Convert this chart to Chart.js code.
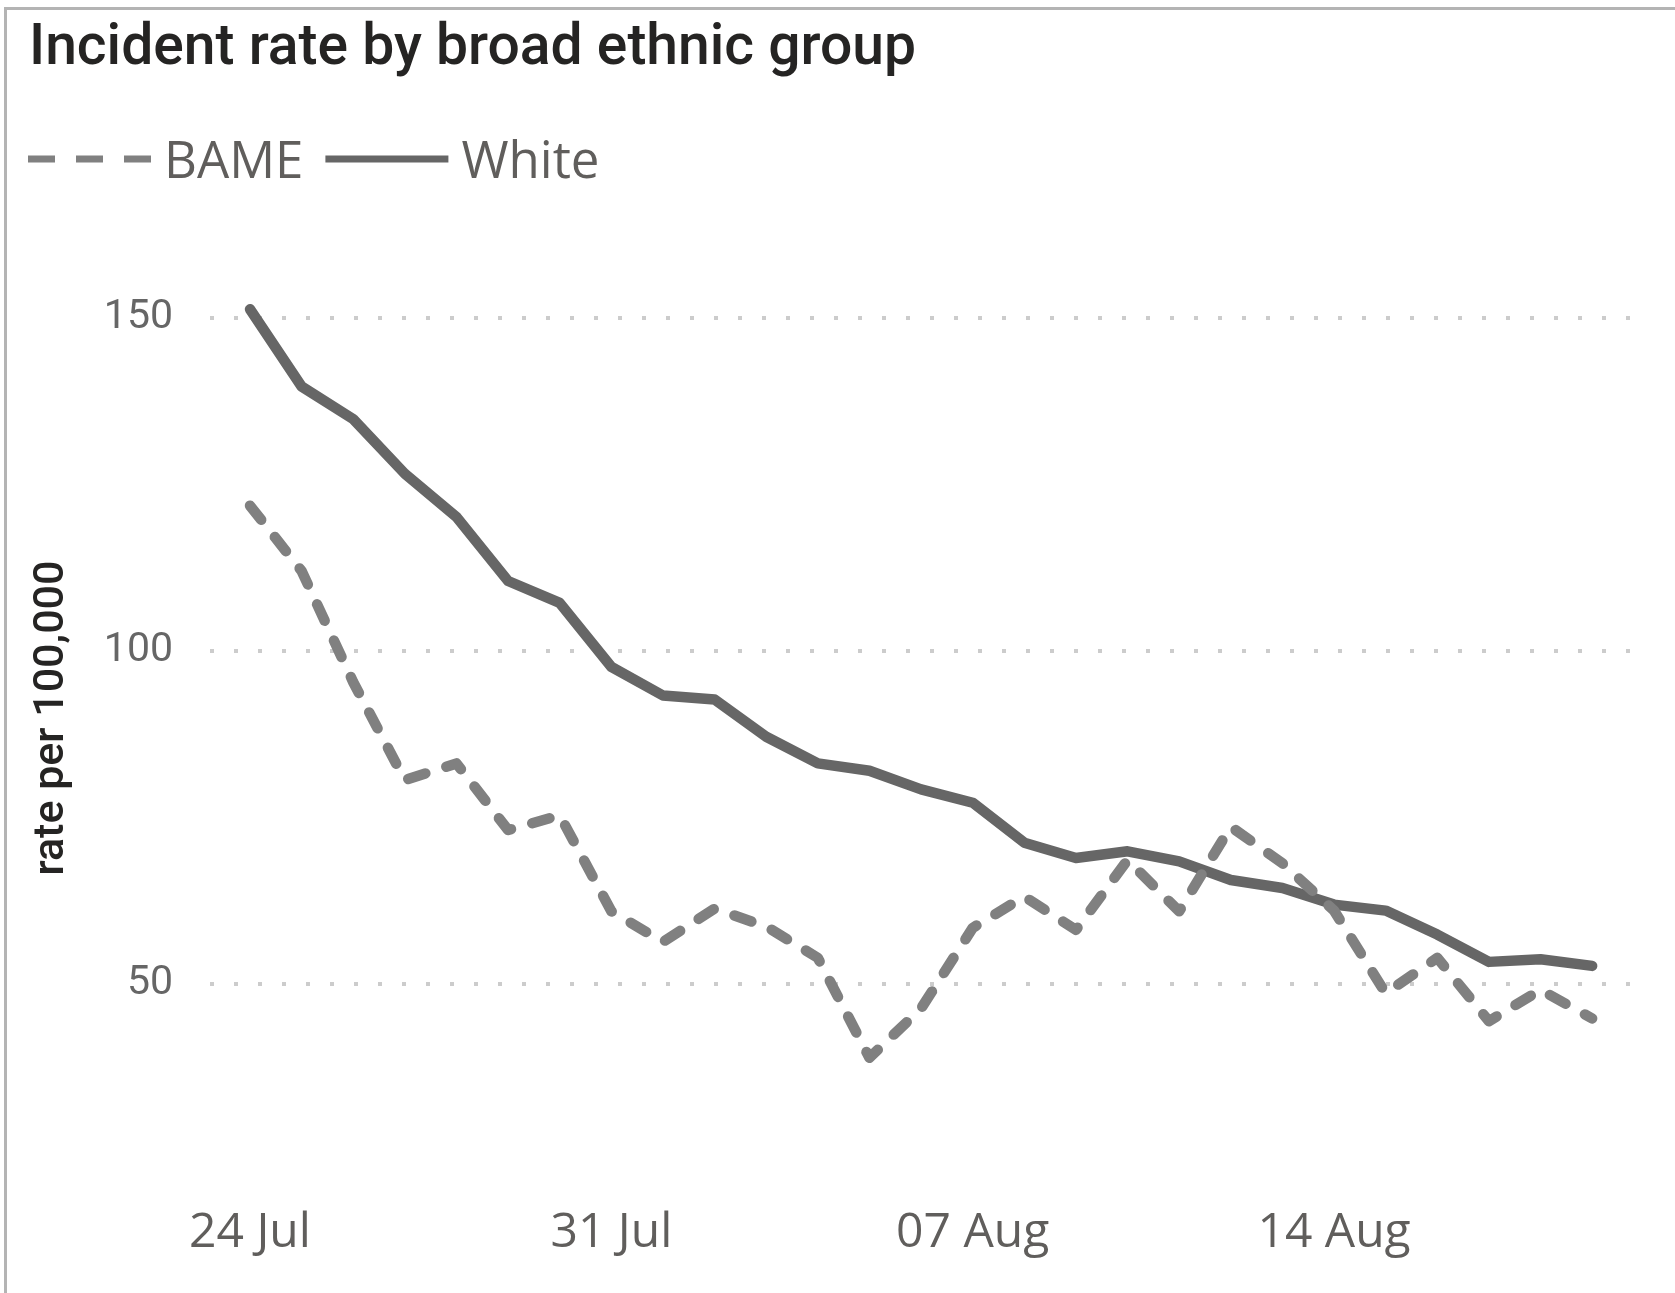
<!DOCTYPE html>
<html>
<head>
<meta charset="utf-8">
<title>Incident rate by broad ethnic group</title>
<script src="https://cdn.jsdelivr.net/npm/chart.js@4.4.1/dist/chart.umd.min.js"></script>
<style>
  html, body { margin: 0; padding: 0; background: #fff; overflow: hidden; }
  #wrap { position: relative; width: 1675px; height: 1293px; overflow: hidden; }
  #frame { position: absolute; left: 4px; top: 7px; right: -20px; bottom: -20px; border: 3px solid #b4b4b4; }
  canvas { position: absolute; left: 0; top: 0; }
</style>
</head>
<body>
<div id="wrap">
  <div id="frame"></div>
  <canvas id="chart" width="1675" height="1293"></canvas>
</div>
<script>
// daily incident rate per 100,000, 24 Jul - 19 Aug
const days = [
  '24 Jul', '25 Jul', '26 Jul', '27 Jul', '28 Jul', '29 Jul', '30 Jul', '31 Jul',
  '01 Aug', '02 Aug', '03 Aug', '04 Aug', '05 Aug', '06 Aug', '07 Aug', '08 Aug',
  '09 Aug', '10 Aug', '11 Aug', '12 Aug', '13 Aug', '14 Aug', '15 Aug', '16 Aug',
  '17 Aug', '18 Aug', '19 Aug'
];
const bame = [
  121.8, 112.0, 95.3, 80.6, 83.1, 73.1, 75.3, 60.9, 56.3, 61.3,
  58.6, 53.9, 38.9, 46.3, 58.4, 63.1, 58.1, 68.6, 60.9, 73.6,
  68.1, 61.0, 48.6, 53.9, 44.4, 49.1, 44.8
];
const white = [
  151.3, 139.7, 134.8, 126.6, 120.1, 110.5, 107.2, 97.6, 93.3, 92.7,
  87.1, 83.1, 82.0, 79.2, 77.2, 71.2, 68.9, 69.9, 68.4, 65.6,
  64.4, 61.9, 61.0, 57.4, 53.3, 53.7, 52.7
];
const xTickLabels = ['24 Jul', '31 Jul', '07 Aug', '14 Aug'];
const yTicks = [50, 100, 150];

const chartTitle = 'Incident rate by broad ethnic group';
const yAxisTitle = 'rate per 100,000';

const toPoints = arr => arr.map((v, i) => ({ x: i, y: v }));

// title, legend and the rotated axis caption are painted on top of the chart
const headerPlugin = {
  id: 'header',
  afterDraw(chart) {
    const ctx = chart.ctx;
    ctx.save();

    ctx.fillStyle = '#252423';
    ctx.font = '500 57px Roboto';
    ctx.textBaseline = 'alphabetic';
    ctx.textAlign = 'left';
    ctx.fillText(chartTitle, 29, 64);

    let x = 28;
    ctx.font = '51px "Open Sans"';
    chart.data.datasets.forEach(ds => {
      ctx.beginPath();
      ctx.lineWidth = 7;
      ctx.lineCap = 'butt';
      ctx.strokeStyle = ds.borderColor;
      ctx.setLineDash(ds.borderDash ? [27, 21] : []);
      ctx.moveTo(x, 159);
      ctx.lineTo(x + 123, 159);
      ctx.stroke();
      ctx.setLineDash([]);
      x += 123 + 13;
      ctx.fillStyle = '#605e5c';
      ctx.fillText(ds.label, x, 178);
      x += ctx.measureText(ds.label).width + 22;
    });

    ctx.translate(52, 718);
    ctx.rotate(-Math.PI / 2);
    ctx.font = '500 43px Roboto';
    ctx.fillStyle = '#252423';
    ctx.textAlign = 'center';
    ctx.textBaseline = 'middle';
    ctx.fillText(yAxisTitle, 0, 0);

    ctx.restore();
  }
};

const ctx = document.getElementById('chart').getContext('2d');

new Chart(ctx, {
  type: 'line',
  data: {
    datasets: [
      {
        label: 'BAME',
        data: toPoints(bame),
        borderColor: '#808080',
        borderWidth: 10.5,
        borderDash: [18, 22],
        borderCapStyle: 'round',
        borderJoinStyle: 'round',
        pointRadius: 0,
        tension: 0,
        fill: false
      },
      {
        label: 'White',
        data: toPoints(white),
        borderColor: '#666666',
        borderWidth: 10.5,
        borderCapStyle: 'round',
        borderJoinStyle: 'round',
        pointRadius: 0,
        tension: 0,
        fill: false
      }
    ]
  },
  options: {
    responsive: false,
    animation: false,
    layout: { padding: { top: 238, left: 9, right: 40, bottom: 0 } },
    plugins: {
      legend: { display: false },
      title: { display: false },
      tooltip: { enabled: false }
    },
    scales: {
      x: {
        type: 'linear',
        min: -0.775,
        max: 26.83,
        grid: { display: false, drawTicks: false },
        border: { display: false },
        afterFit: scale => { scale.height = 140; },
        afterBuildTicks: scale => {
          scale.ticks = xTickLabels.map(l => ({ value: days.indexOf(l) }));
        },
        ticks: {
          padding: 52,
          maxRotation: 0,
          autoSkip: false,
          color: '#605e5c',
          font: { family: '"Open Sans"', size: 48 },
          callback: v => days[v]
        }
      },
      y: {
        min: 24.6,
        max: 162,
        grid: { color: '#cccccc', lineWidth: 4, drawTicks: false },
        border: { display: false, dash: [4, 20] },
        afterFit: scale => { scale.width = 201; },
        afterBuildTicks: scale => {
          scale.ticks = yTicks.map(v => ({ value: v }));
        },
        ticks: {
          padding: 37,
          color: '#666666',
          font: { family: 'Roboto', size: 41 }
        }
      }
    }
  },
  plugins: [headerPlugin]
});
</script>
</body>
</html>
